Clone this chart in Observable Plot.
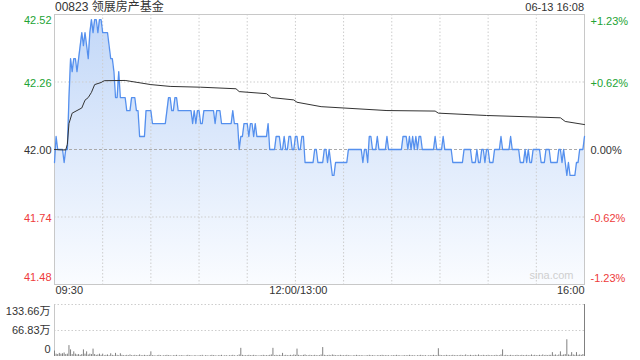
<!DOCTYPE html>
<html><head><meta charset="utf-8">
<script src="https://cdn.jsdelivr.net/npm/d3@7"></script>
<script src="https://cdn.jsdelivr.net/npm/@observablehq/plot@0.6"></script>
<style>
body{margin:0;background:#fff;font-family:"Liberation Sans",Arial,"Noto Sans CJK SC",sans-serif;}
#wrap{position:relative;width:640px;height:360px;overflow:hidden;}
#title{position:absolute;left:55px;top:0px;font-size:12px;line-height:14px;color:#333;white-space:nowrap;}
#stamp{position:absolute;right:56px;top:1px;font-size:11px;line-height:13px;color:#333;white-space:nowrap;}
#main{position:absolute;left:0;top:0;}
#vol{position:absolute;left:0;top:300px;}
</style></head><body>
<div id="wrap"><div id="main"></div><div id="vol"></div><div id="title"></div><div id="stamp"></div></div>
<script>
const titleText = "00823 领展房产基金";
const stampText = "06-13 16:08";
const prevClose = 42.00;
const priceTicks = [42.52, 42.26, 42.00, 41.74, 41.48];
const pctLabels = ["+1.23%", "+0.62%", "0.00%", "-0.62%", "-1.23%"];
const timeTicks = [0, 150, 330];
const timeLabels = ["09:30", "12:00/13:00", "16:00"];
const gridMinutes = [30, 60, 90, 120, 150, 180, 210, 240, 270, 300];
const volTicks = [133.66, 66.83, 0];
const volLabels = ["133.66万", "66.83万", "0"];
const watermark = "sina.com";

// per-minute price, 09:30 .. 16:00 (331 points, lunch removed)
const prices = [
41.95,42.05,42.00,42.00,42.00,42.00,41.95,42.00,42.00,42.20,
42.35,42.30,42.35,42.35,42.30,42.35,42.40,42.45,42.40,42.45,
42.40,42.35,42.45,42.50,42.45,42.50,42.50,42.45,42.50,42.50,
42.45,42.45,42.45,42.45,42.40,42.35,42.35,42.30,42.20,42.20,
42.30,42.20,42.20,42.20,42.20,42.15,42.15,42.15,42.20,42.20,
42.20,42.15,42.15,42.05,42.05,42.05,42.05,42.15,42.15,42.15,
42.15,42.10,42.10,42.10,42.10,42.10,42.10,42.10,42.10,42.10,
42.15,42.20,42.20,42.15,42.15,42.20,42.20,42.15,42.15,42.15,
42.15,42.15,42.15,42.15,42.15,42.15,42.10,42.15,42.10,42.15,
42.15,42.10,42.10,42.15,42.15,42.15,42.15,42.15,42.15,42.15,
42.10,42.15,42.15,42.15,42.10,42.10,42.10,42.10,42.10,42.10,
42.10,42.15,42.10,42.10,42.10,42.00,42.05,42.05,42.10,42.10,
42.10,42.05,42.10,42.10,42.05,42.10,42.05,42.05,42.05,42.05,
42.05,42.05,42.05,42.10,42.00,42.00,42.00,42.00,42.05,42.05,
42.05,42.00,42.00,42.05,42.00,42.00,42.05,42.05,42.00,42.00,
42.05,42.05,42.00,42.00,42.05,42.05,41.95,41.95,41.95,41.95,
41.95,41.95,42.00,42.00,41.95,41.95,41.95,41.95,42.00,42.00,
41.95,42.00,41.95,41.90,41.90,41.95,41.95,41.95,41.95,41.95,
41.95,41.95,41.95,42.00,42.00,42.00,42.00,42.00,42.00,42.00,
42.00,42.00,41.95,42.00,42.00,41.95,42.05,42.05,42.00,42.00,
42.00,42.05,42.00,42.00,42.00,42.00,42.00,42.05,42.00,42.00,
42.00,42.00,42.00,42.00,42.00,42.00,42.00,42.05,42.05,42.05,
42.00,42.05,42.00,42.05,42.00,42.05,42.00,42.05,42.05,42.00,
42.00,42.00,42.00,42.00,42.00,42.00,42.00,42.05,42.00,42.00,
42.00,42.00,42.05,42.00,42.00,42.00,42.00,42.00,41.95,41.95,
41.95,41.95,41.95,41.95,41.95,42.00,42.00,42.00,42.00,42.00,
41.95,41.95,41.95,42.00,41.95,41.95,42.00,42.00,41.95,42.00,
42.00,41.95,41.95,41.95,42.00,42.00,42.00,42.00,42.05,42.00,
42.00,42.00,42.00,42.00,42.05,42.00,42.00,42.00,42.00,42.00,
41.95,41.95,41.95,42.00,41.95,42.00,41.95,41.95,42.00,42.00,
42.00,42.00,42.00,41.95,41.95,41.95,42.00,42.00,42.00,41.95,
41.95,41.95,41.95,41.95,42.00,42.00,41.95,42.00,41.95,41.90,
41.95,41.90,41.90,41.90,41.90,41.95,41.95,42.00,42.00,42.00,42.05
];

// average price line, key points (minute, value)
const avgMinutes = [0,7,8,9,11,14,17,19,21,23,25,29,31,44,60,72,91,113,115,132,135,149,151,166,207,237,239,269,315,318,330];
const avgValues = [42.00,41.998,42.02,42.10,42.14,42.15,42.16,42.19,42.20,42.22,42.25,42.258,42.265,42.266,42.25,42.243,42.24,42.234,42.223,42.215,42.20,42.191,42.182,42.165,42.15,42.148,42.14,42.131,42.122,42.108,42.096];

// per-minute volume in 万
const volumes = [
14,6,5,8,6,7,9,5,6,28,
17,5,12,6,4,5,3,5,17,6,
12,4,6,5,19,5,3,4,6,3,
6,2,3,4,2,7,3,2,8,3,
2,7,3,2,2,3,2,4,2,2,
3,2,2,4,2,2,3,2,2,3,
12,2,2,1,2,3,2,1,2,2,
3,2,2,1,2,2,3,1,2,2,
2,1,2,3,2,2,1,2,2,1,
2,2,3,1,2,2,1,2,3,2,
2,1,2,2,3,1,2,2,1,2,
2,3,2,1,2,4,21,3,2,2,
2,3,2,2,3,2,2,1,2,2,
3,2,2,2,3,4,21,2,3,2,
3,2,8,2,3,2,2,3,2,4,
3,19,3,2,2,3,4,2,2,3,
2,2,3,2,2,2,4,23,3,2,
2,3,2,4,3,2,2,2,3,2,
2,2,3,2,2,1,2,2,3,2,
2,2,2,1,2,2,3,2,2,2,
1,2,2,2,3,2,2,2,2,1,
2,2,2,3,2,2,1,2,2,2,
2,3,2,2,2,1,2,2,3,2,
2,2,1,2,2,2,3,2,2,20,
3,2,2,2,3,2,2,2,3,2,
2,2,2,3,2,2,4,2,2,3,
2,2,3,2,4,2,2,3,2,2,
3,2,2,2,2,3,2,2,4,17,
2,3,2,2,3,2,2,2,3,2,
2,3,2,2,3,2,2,4,2,3,
2,2,3,2,4,2,3,2,3,3,
10,3,4,2,4,12,3,4,5,43,
4,3,10,4,3,10,3,4,3,5,133.66
];

document.getElementById("title").textContent = titleText;
document.getElementById("stamp").textContent = stampText;

const GREEN = "#22a334", RED = "#ee3b3b", DARK = "#333";
const colorOf = v => v > prevClose ? GREEN : v < prevClose ? RED : DARK;
const rows = prices.map((p, i) => ({m: i, p}));
const avg = avgMinutes.map((m, i) => ({m, v: avgValues[i]}));
const yMin = d3.min(priceTicks), yMax = d3.max(priceTicks);
const xDom = [0, prices.length - 1];
const FONT = '"Liberation Sans", Arial, "Noto Sans CJK SC", sans-serif';
const idx = (a, b) => d3.range(a, b);

const main = Plot.plot({
  width: 640, height: 300,
  marginTop: 14, marginBottom: 16, marginLeft: 54, marginRight: 56,
  x: {domain: xDom, axis: null},
  y: {domain: [yMin, yMax], axis: null},
  color: {type: "identity"},
  style: {fontFamily: FONT, fontSize: "11px", background: "transparent", overflow: "visible"},
  marks: [
    Plot.areaY(rows, {x: "m", y1: yMin, y2: "p", fill: "url(#pxgrad)"}),
    Plot.ruleX(gridMinutes, {stroke: "#cdcdcd", strokeDasharray: "1.5,2"}),
    Plot.ruleY(priceTicks.filter(v => v !== yMax && v !== yMin && v !== prevClose), {stroke: "#cdcdcd", strokeDasharray: "1.5,2"}),
    Plot.ruleY([prevClose], {stroke: "#aaa", strokeDasharray: "3,2"}),
    Plot.frame({stroke: "#c8c8c8"}),
    Plot.line(rows, {x: "m", y: "p", stroke: "#5590ee", strokeWidth: 1.3}),
    Plot.line(avg, {x: "m", y: "v", stroke: "#333", strokeWidth: 1}),
    // left price labels
    Plot.text(idx(0, 1), {y: i => priceTicks[i], text: i => priceTicks[i].toFixed(2), fill: i => colorOf(priceTicks[i]), frameAnchor: "left", textAnchor: "end", dx: -3, dy: 6}),
    Plot.text(idx(1, 4), {y: i => priceTicks[i], text: i => priceTicks[i].toFixed(2), fill: i => colorOf(priceTicks[i]), frameAnchor: "left", textAnchor: "end", dx: -3, dy: 1}),
    Plot.text(idx(4, 5), {y: i => priceTicks[i], text: i => priceTicks[i].toFixed(2), fill: i => colorOf(priceTicks[i]), frameAnchor: "left", textAnchor: "end", dx: -3, dy: -7}),
    // right percent labels
    Plot.text(idx(0, 1), {y: i => priceTicks[i], text: i => pctLabels[i], fill: i => colorOf(priceTicks[i]), frameAnchor: "right", textAnchor: "start", dx: 6, dy: 7}),
    Plot.text(idx(1, 4), {y: i => priceTicks[i], text: i => pctLabels[i], fill: i => colorOf(priceTicks[i]), frameAnchor: "right", textAnchor: "start", dx: 6, dy: 1}),
    Plot.text(idx(4, 5), {y: i => priceTicks[i], text: i => pctLabels[i], fill: i => colorOf(priceTicks[i]), frameAnchor: "right", textAnchor: "start", dx: 6, dy: -6}),
    // time labels
    Plot.text(idx(0, 1), {x: i => timeTicks[i], text: i => timeLabels[i], frameAnchor: "bottom", textAnchor: "start", dx: 1, dy: 9, fill: DARK}),
    Plot.text(idx(1, 2), {x: i => timeTicks[i], text: i => timeLabels[i], frameAnchor: "bottom", textAnchor: "middle", dx: 3, dy: 9, fill: DARK}),
    Plot.text(idx(2, 3), {x: i => timeTicks[i], text: i => timeLabels[i], frameAnchor: "bottom", textAnchor: "end", dx: 0, dy: 9, fill: DARK}),
    Plot.text([watermark], {text: d => d, frameAnchor: "bottom-right", textAnchor: "end", dx: -11, dy: -6, fill: "#cfcfcf", fontSize: 11})
  ]
});

const svg = d3.select(main);
const grad = svg.insert("defs", ":first-child").append("linearGradient")
  .attr("id", "pxgrad").attr("x1", 0).attr("y1", 0).attr("x2", 0).attr("y2", 1);
grad.append("stop").attr("offset", "0%").attr("stop-color", "#c3d8f8");
grad.append("stop").attr("offset", "100%").attr("stop-color", "#fafcff");
document.getElementById("main").appendChild(main);

const vol = Plot.plot({
  width: 640, height: 60,
  marginTop: 4, marginBottom: 4, marginLeft: 54, marginRight: 56,
  x: {domain: xDom, axis: null},
  y: {domain: [0, d3.max(volTicks)], axis: null},
  style: {fontFamily: FONT, fontSize: "11px", background: "transparent", overflow: "visible"},
  marks: [
    Plot.ruleY(volTicks.filter(v => v > 0), {stroke: "#cdcdcd", strokeDasharray: "1.5,2"}),
    Plot.ruleX([xDom[0]], {stroke: "#c8c8c8"}),
    Plot.ruleX(volumes, {x: (d, i) => i, y1: 0, y2: d => d, stroke: "#808080", strokeWidth: 1}),
    Plot.text(idx(0, 1), {y: i => volTicks[i], text: i => volLabels[i], frameAnchor: "left", textAnchor: "end", dx: -4, dy: 7, fill: DARK}),
    Plot.text(idx(1, 2), {y: i => volTicks[i], text: i => volLabels[i], frameAnchor: "left", textAnchor: "end", dx: -4, dy: 0, fill: DARK}),
    Plot.text(idx(2, 3), {y: i => volTicks[i], text: i => volLabels[i], frameAnchor: "left", textAnchor: "end", dx: -4, dy: -7, fill: DARK})
  ]
});
document.getElementById("vol").appendChild(vol);
</script>
</body></html>
